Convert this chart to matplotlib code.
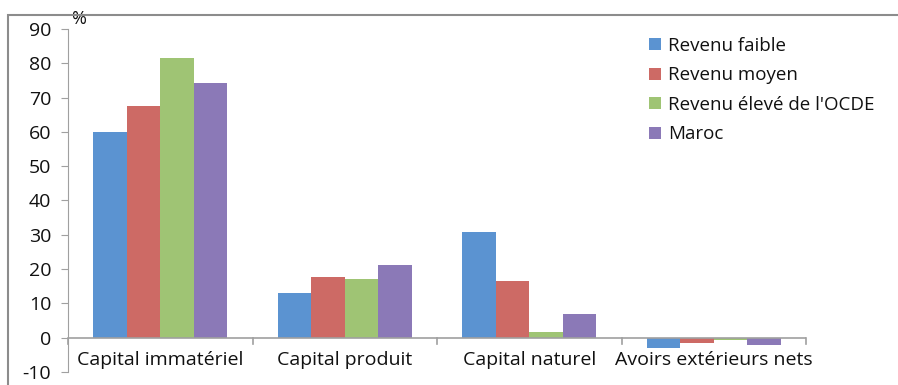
import numpy as np
import matplotlib.pyplot as plt
from matplotlib.patches import Rectangle

categories = ["Capital immatériel", "Capital produit", "Capital naturel", "Avoirs extérieurs nets"]
series_names = ["Revenu faible", "Revenu moyen", "Revenu élevé de l'OCDE", "Maroc"]
revenu_faible = [60.0, 12.9, 30.7, -2.9]
revenu_moyen = [67.5, 17.6, 16.4, -1.5]
revenu_eleve = [81.5, 17.0, 1.8, -0.6]
maroc = [74.3, 21.1, 7.0, -2.0]
colors = ["#5B93D1", "#CD6A65", "#9FC474", "#8B79B7"]

plt.rcParams['font.family'] = ['Open Sans', 'DejaVu Sans']
plt.rcParams['axes.unicode_minus'] = False

fig = plt.figure(figsize=(8.98, 3.85), dpi=100)
# outer chart frame
fig.patches.append(Rectangle((8 / 898, -0.1), 1.0, 1 - 15 / 385 + 0.1, transform=fig.transFigure,
                             fill=False, edgecolor="#8C8C8C", linewidth=1.5))

ax = fig.add_axes([68 / 898, 13 / 385, 738 / 898, 343 / 385])
x = np.arange(len(categories))
width = 0.182
values = [revenu_faible, revenu_moyen, revenu_eleve, maroc]
for i, (name, vals) in enumerate(zip(series_names, values)):
    ax.bar(x + (i - 1.5) * width, vals, width, color=colors[i], label=name)

ax.set_xlim(-0.5, len(categories) - 0.5)
ax.set_ylim(-10, 90)
ax.set_yticks(range(-10, 91, 10))
ax.tick_params(axis='y', length=5, color="#A0A0A0", labelsize=14, pad=7, labelcolor="#111111")
ax.set_xticks([])
for s in ["top", "right", "bottom"]:
    ax.spines[s].set_visible(False)
ax.spines["left"].set_color("#A0A0A0")

# zero line with category separators
ax.axhline(0, color="#A0A0A0", linewidth=1.2)
for b in np.arange(-0.5, len(categories), 1.0):
    ax.plot([b, b], [0, -1.7], color="#A0A0A0", linewidth=1.2, clip_on=False)
for xi, cat in zip(x, categories):
    ax.text(xi, -6.4, cat, ha="center", va="center", fontsize=14, color="#111111")

ax.text(0.004, 1.03, "%", transform=ax.transAxes, fontsize=13, va="center", color="#111111")

leg = ax.legend(loc="upper left", bbox_to_anchor=(0.765, 1.027), frameon=False, fontsize=13.5,
                handlelength=0.6, handleheight=0.6, handletextpad=0.4, labelspacing=0.62)
for t in leg.get_texts():
    t.set_color("#111111")

fig.savefig("out.png", dpi=100)
